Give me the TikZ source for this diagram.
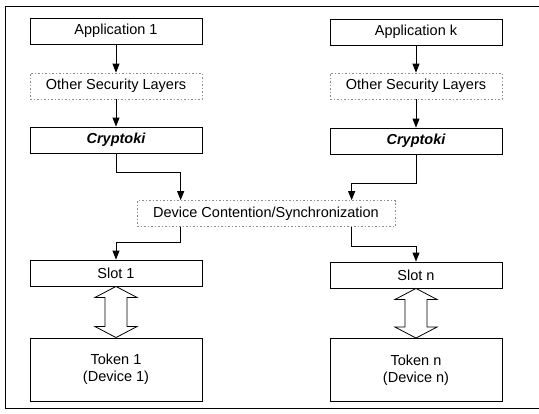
\documentclass[tikz,border=0pt]{standalone}
\usepackage{fontspec}
\setmainfont{Liberation Sans}
\usetikzlibrary{arrows.meta,calc}

\tikzset{
  box/.style={draw, line width=0.9pt, minimum width=172pt, minimum height=26pt,
              inner sep=0pt, font=\fontsize{14.5}{17}\selectfont},
  softbox/.style={box, draw=black!45, dash pattern=on 1.5pt off 2pt, line width=0.7pt},
  tokenbox/.style={box, minimum height=63pt, align=center},
  link/.style={line width=0.9pt, -{Triangle[length=9pt,width=7pt]}},
  frameline/.style={line width=0.9pt},
  bothways/.style={line width=0.8pt, fill=white}
}

\begin{document}
\begin{tikzpicture}[x=1pt, y=-1pt]
  \useasboundingbox (0,0) rectangle (539,413);

  % surrounding frame (open on the right)
  \draw[frameline] (539,6) -- (5,6) -- (5,408) -- (539,408);

  % left application stack
  \node[box]     (app1)  at (116,31)  {Application 1};
  \node[softbox] (osl1)  at (116,86)  {Other Security Layers};
  \node[box]     (cry1)  at (116,140) {\itshape\bfseries Cryptoki};

  % right application stack
  \node[box]     (appk)  at (416,32)  {Application k};
  \node[softbox] (oslk)  at (416,86)  {Other Security Layers};
  \node[box]     (cryk)  at (416,141) {\itshape\bfseries Cryptoki};

  % shared layer
  \node[softbox, minimum width=258pt] (dev) at (266,213.5) {Device Contention/Synchronization};

  % slots and tokens
  \node[box]      (slot1) at (116,273) {Slot 1};
  \node[box]      (slotn) at (416,275) {Slot n};
  \node[tokenbox] (tok1)  at (116,369.5) {Token 1\\(Device 1)};
  \node[tokenbox] (tokn)  at (416,370) {Token n\\(Device n)};

  % vertical links within each stack
  \draw[link] (app1.south) -- (osl1.north);
  \draw[link] (osl1.south) -- (cry1.north);
  \draw[link] (appk.south) -- (oslk.north);
  \draw[link] (oslk.south) -- (cryk.north);

  % into the shared layer
  \coordinate (d1) at ($(dev.north west)+(44,0)$);
  \coordinate (d2) at ($(dev.north west)+(215,0)$);
  \draw[link] (cry1.south) -- ++(0,19) -| (d1);
  \draw[link] (cryk.south) -- ++(0,29) -| (d2);

  % out of the shared layer
  \coordinate (e1) at ($(dev.south west)+(44,0)$);
  \coordinate (e2) at ($(dev.south west)+(215,0)$);
  \draw[link] (e1) -- ++(0,16) -| (slot1.north);
  \draw[link] (e2) -- ++(0,20) -| (slotn.north);

  % two-way block arrows between slot and token
  \foreach \s/\t in {slot1/tok1, slotn/tokn}{
    \draw[bothways]
      (\s.south) -- ($(\s.south)+(21,11)$) -- ($(\s.south)+(11,11)$)
      -- ($(\t.north)+(11,-11)$) -- ($(\t.north)+(21,-11)$) -- (\t.north)
      -- ($(\t.north)+(-21,-11)$) -- ($(\t.north)+(-11,-11)$)
      -- ($(\s.south)+(-11,11)$) -- ($(\s.south)+(-21,11)$) -- cycle;
  }
\end{tikzpicture}
\end{document}
